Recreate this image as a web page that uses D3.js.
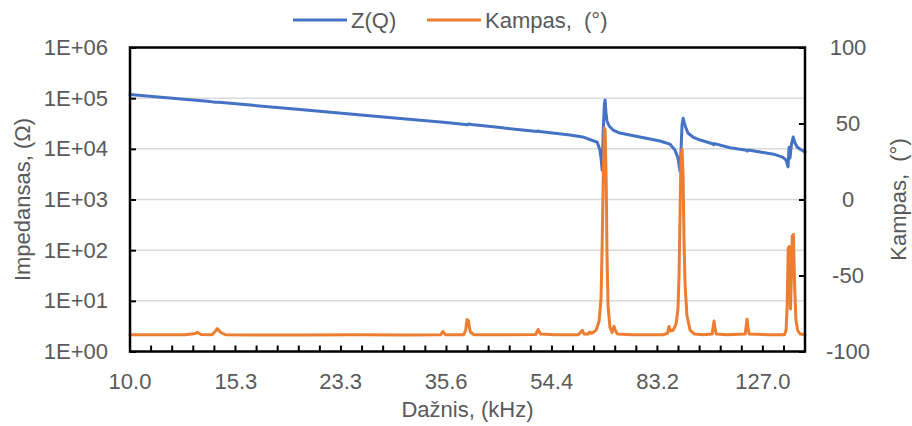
<!DOCTYPE html>
<html>
<head>
<meta charset="utf-8">
<script src="https://cdn.jsdelivr.net/npm/d3@7/dist/d3.min.js"></script>
<style>
  html, body { margin: 0; padding: 0; background: #fff; }
  svg { display: block; font-family: "Liberation Sans", Arial, sans-serif; }
</style>
</head>
<body>
<svg id="chart" width="912" height="426"></svg>
<script>
// Frequency axis labels (kHz)
const freqLabels = ["10.0", "15.3", "23.3", "35.6", "54.4", "83.2", "127.0"];
const freqLabelValues = [10.0, 15.3, 23.3, 35.6, 54.4, 83.2, 127.0];

// Left axis (impedance, log) tick labels
const impTickLabels = ["1E+00", "1E+01", "1E+02", "1E+03", "1E+04", "1E+05", "1E+06"];
const impTickValues = [1, 10, 100, 1000, 10000, 100000, 1000000];

// Right axis (phase) ticks
const phaseTicks = [-100, -50, 0, 50, 100];
const phaseTickLabels = ["-100", "-50", "0", "50", "100"];

// Impedance series Z(Q): frequency (kHz) and |Z| (Ω)
const impFreq = [
  10.0, 12.0, 13.8, 14.1, 14.3, 16.2, 19.8, 24.2, 29.6, 35.2,
  38.5, 38.7, 39.0, 39.4, 44.2, 47.9, 51.3, 51.5, 51.8, 58.5,
  61.6, 65.3, 66.0, 66.3, 66.6, 66.9, 67.2, 67.4, 67.6, 67.9,
  68.5, 69.6, 71.5, 77.5, 84.0, 87.4, 89.2, 90.3, 91.05, 91.4,
  91.8, 92.2, 92.6, 93.0, 94.0, 95.9, 98.7, 103.8, 104.2, 104.6,
  111.3, 119.0, 119.3, 119.7, 125.6, 133.4, 137.7, 139.4, 140.5, 141.1,
  141.6, 142.4, 143.4, 144.5, 145.7, 147.5, 150.4
];
const impedance = [
  118000, 98500, 85500, 83000, 83200, 73000, 59600, 48800, 39900, 33500,
  30300, 29600, 31000, 30200, 26300, 23800, 22100, 22500, 21900, 18800,
  17200, 13500, 9500, 6600, 3800, 23500, 76600, 91800, 53300, 35400,
  28200, 23500, 20500, 17100, 14300, 12400, 9500, 6600, 3600, 9000,
  30000, 40000, 33000, 28000, 20500, 17100, 14900, 12600, 12000, 12700,
  10500, 9350, 9000, 9450, 8650, 7700, 6800, 6000, 4400, 10800,
  6600, 12000, 17100, 13000, 10900, 9800, 8700
];

// Phase series Kampas: frequency (kHz) and angle (°)
const phaseFreq = [
  10.0, 12.5, 13.0, 13.1, 13.3, 13.9, 14.1, 14.2, 14.4, 14.7,
  20.0, 25.0, 30.0, 34.8, 35.15, 35.5, 38.2, 38.5, 38.7, 38.9,
  39.2, 39.8, 45.0, 51.0, 51.5, 52.0, 55.0, 60.5, 61.2, 61.5,
  61.9, 63.0, 63.4, 63.9, 65.0, 65.8, 66.3, 66.6, 66.9, 67.2,
  67.4, 67.7, 67.9, 68.2, 68.7, 69.3, 69.6, 69.85, 70.2, 70.8,
  75.0, 85.0, 86.6, 87.1, 87.6, 88.6, 89.6, 90.3, 90.7, 91.05,
  91.4, 91.8, 92.2, 92.5, 92.9, 93.6, 94.8, 96.5, 100.0, 103.6,
  104.0, 104.4, 104.8, 105.3, 110.0, 118.3, 118.8, 119.2, 119.6, 120.2,
  130.0, 138.5, 139.4, 140.0, 140.6, 141.1, 141.6, 141.9, 142.4, 142.9,
  143.6, 144.2, 145.0, 146.0, 147.5, 150.4
];
const phase = [
  -89, -89, -88.2, -87.3, -88.8, -89, -86.5, -85.0, -87.5, -89,
  -89.2, -89, -89.1, -89, -86.8, -89, -89, -86, -79, -79.5,
  -87, -89, -89, -88.8, -85.5, -88.5, -89, -89, -87, -86,
  -88.5, -88.5, -87.2, -88, -86, -80, -65, -30, 15, 47,
  46, 10, -35, -70, -84, -87.5, -85, -83.5, -86, -88.5,
  -89, -89, -88, -83.5, -86.5, -86, -82, -72, -50, -10,
  28, 33, 15, -25, -55, -76, -86, -88.5, -89, -88.5,
  -84, -80, -85, -88.5, -89, -88.5, -83, -78.8, -84, -88.5,
  -89, -89, -86, -70, -32, -31, -60, -72, -50, -24,
  -23, -55, -79, -86, -88.5, -89
];

const seriesNames = ["Z(Q)", "Kampas,  (°)"];
const seriesColors = ["#4472C4", "#ED7D31"];

const plot = { left: 130, right: 805, top: 47.5, bottom: 351.5 };
const svg = d3.select("#chart");
const labelColor = "#595959";

const x = d3.scaleLog().domain([10, 150.4]).range([plot.left, plot.right]);
const yL = d3.scaleLog().domain([1, 1e6]).range([plot.bottom, plot.top]);
const yR = d3.scaleLinear().domain([-100, 100]).range([plot.bottom, plot.top]);

// horizontal gridlines at each decade
svg.append("g")
  .selectAll("line")
  .data(impTickValues)
  .join("line")
  .attr("x1", plot.left).attr("x2", plot.right)
  .attr("y1", d => yL(d)).attr("y2", d => yL(d))
  .attr("stroke", "#d9d9d9").attr("stroke-width", 1.5);

// series lines
const impData = impFreq.map((f, i) => [f, impedance[i]]);
const phaseData = phaseFreq.map((f, i) => [f, phase[i]]);

svg.append("path")
  .datum(impData)
  .attr("fill", "none")
  .attr("stroke", seriesColors[0])
  .attr("stroke-width", 3)
  .attr("stroke-linejoin", "round")
  .attr("stroke-linecap", "round")
  .attr("d", d3.line().x(d => x(d[0])).y(d => yL(d[1])));

svg.append("path")
  .datum(phaseData)
  .attr("fill", "none")
  .attr("stroke", seriesColors[1])
  .attr("stroke-width", 3)
  .attr("stroke-linejoin", "round")
  .attr("stroke-linecap", "round")
  .attr("d", d3.line().x(d => x(d[0])).y(d => yR(d[1])));

// plot frame
svg.append("rect")
  .attr("x", plot.left).attr("y", plot.top)
  .attr("width", plot.right - plot.left).attr("height", plot.bottom - plot.top)
  .attr("fill", "none").attr("stroke", "#000").attr("stroke-width", 2.5);

// left axis: inside ticks, labels right-aligned
const leftAxis = d3.axisLeft(yL)
  .tickValues(impTickValues)
  .tickFormat((d, i) => impTickLabels[i])
  .tickSizeInner(-6).tickSizeOuter(0).tickPadding(22);
const gL = svg.append("g").attr("transform", `translate(${plot.left},0)`).call(leftAxis);
gL.select(".domain").remove();
gL.selectAll(".tick line").attr("stroke", "#000").attr("stroke-width", 2);
gL.selectAll(".tick text").attr("fill", labelColor).attr("font-size", 22)
  .attr("font-family", "Liberation Sans, Arial, sans-serif");

// right axis: inside ticks, labels centred
const rightAxis = d3.axisRight(yR)
  .tickValues(phaseTicks)
  .tickFormat((d, i) => phaseTickLabels[i])
  .tickSizeInner(-6).tickSizeOuter(0).tickPadding(43);
const gR = svg.append("g").attr("transform", `translate(${plot.right},0)`).call(rightAxis);
gR.select(".domain").remove();
gR.selectAll(".tick line").attr("stroke", "#000").attr("stroke-width", 2);
gR.selectAll(".tick text").attr("fill", labelColor).attr("font-size", 22)
  .attr("text-anchor", "middle")
  .attr("font-family", "Liberation Sans, Arial, sans-serif");

// bottom axis: minor ticks every fifth of a label step, labels at the steps
const stepRatio = Math.pow(127.0 / 10.0, 1 / 30);
const minorTicks = d3.range(0, 33).map(i => 10 * Math.pow(stepRatio, i)).filter(v => v <= 150.4);
const gB = svg.append("g").attr("transform", `translate(0,${plot.bottom})`);
gB.selectAll("line")
  .data(minorTicks)
  .join("line")
  .attr("x1", d => x(d)).attr("x2", d => x(d))
  .attr("y1", 0).attr("y2", -6)
  .attr("stroke", "#000").attr("stroke-width", 2);
gB.selectAll("text")
  .data(freqLabelValues)
  .join("text")
  .attr("x", d => x(d))
  .attr("y", 37)
  .attr("text-anchor", "middle")
  .attr("fill", labelColor)
  .attr("font-size", 22)
  .text((d, i) => freqLabels[i]);

// axis titles
svg.append("text")
  .attr("x", (plot.left + plot.right) / 2).attr("y", 417)
  .attr("text-anchor", "middle").attr("fill", labelColor).attr("font-size", 22)
  .text("Dažnis, (kHz)");

svg.append("text")
  .attr("transform", `translate(30,${(plot.top + plot.bottom) / 2}) rotate(-90)`)
  .attr("text-anchor", "middle").attr("fill", labelColor).attr("font-size", 22)
  .text("Impedansas, (Ω)");

svg.append("text")
  .attr("transform", `translate(906,${(plot.top + plot.bottom) / 2}) rotate(-90)`)
  .attr("text-anchor", "middle").attr("fill", labelColor).attr("font-size", 22)
  .style("white-space", "pre")
  .text("Kampas,  (°)");

// legend
const legendItems = [
  { name: seriesNames[0], color: seriesColors[0], x0: 293 },
  { name: seriesNames[1], color: seriesColors[1], x0: 427 }
];
const lg = svg.append("g");
legendItems.forEach(it => {
  lg.append("line")
    .attr("x1", it.x0).attr("x2", it.x0 + 54)
    .attr("y1", 20).attr("y2", 20)
    .attr("stroke", it.color).attr("stroke-width", 3);
  lg.append("text")
    .attr("x", it.x0 + 58).attr("y", 28)
    .attr("fill", labelColor).attr("font-size", 22)
    .style("white-space", "pre")
    .text(it.name);
});
</script>
</body>
</html>
